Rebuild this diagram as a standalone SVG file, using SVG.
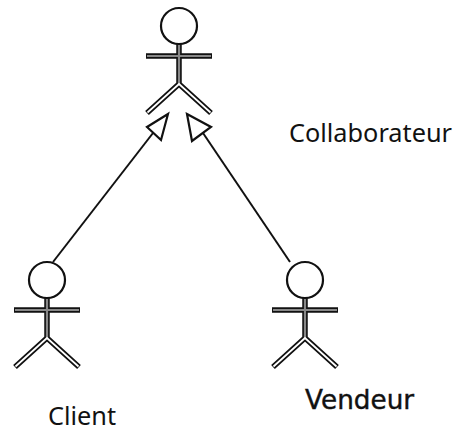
<svg xmlns="http://www.w3.org/2000/svg" width="454" height="429" viewBox="0 0 454 429">
<style>
text{font-family:"Noto Sans","Open Sans",sans-serif;font-size:25.300px;fill:#111}
.v{font-family:"DejaVu Sans",sans-serif;font-size:26.300px;stroke:#111;stroke-width:.4}
.head{fill:#fff;stroke:#111;stroke-width:2.2}
.o{fill:none;stroke:#111;stroke-width:5.5}
.g{fill:none;stroke:#888;stroke-width:2.2}
.w{fill:none;stroke:#fff;stroke-width:1.8}
.line{fill:none;stroke:#111;stroke-width:2}
.tri{fill:#fff;stroke:#111;stroke-width:2.2;stroke-linejoin:miter}
</style>
<defs>
<g id="fig">
<path class="o" d="M0 18V58M-33 30H33M-32 87L0 58L32 87"/>
<path class="g" d="M0 18V58M-32 30H32"/>
<path class="w" d="M-31.500 86.500L0 58L31.500 86.500"/>
<circle class="head" cx="0" cy="0" r="18"/>
</g>
</defs>
<g id="connectors">
<path class="line" d="M53 262L153 133"/>
<path class="tri" d="M168 114L147 127L161 140Z"/>
<path class="line" d="M290 262L203 133"/>
<path class="tri" d="M187 114L211 127L192 141Z"/>
</g>
<g id="collaborateur"><use href="#fig" x="179" y="26"/><text x="289" y="142">Collaborateur</text></g>
<g id="client"><use href="#fig" x="47" y="280"/><text x="48" y="425">Client</text></g>
<g id="vendeur"><use href="#fig" x="305" y="280"/><text class="v" x="305" y="409">Vendeur</text></g>
</svg>
